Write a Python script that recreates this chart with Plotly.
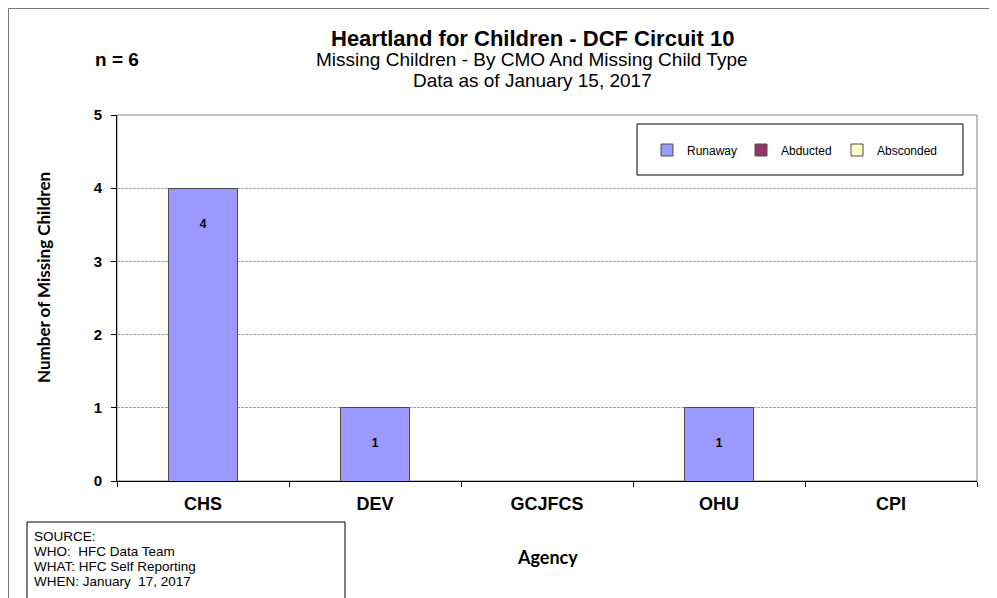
import plotly.graph_objects as go

# ---- data ----
agencies = ["CHS", "DEV", "GCJFCS", "OHU", "CPI"]
runaway = [4, 1, 0, 1, 0]
abducted = [0, 0, 0, 0, 0]
absconded = [0, 0, 0, 0, 0]
series_names = ["Runaway", "Abducted", "Absconded"]
series_colors = ["#9999FF", "#993366", "#FFFFCC"]
y_ticks = [0, 1, 2, 3, 4, 5]
n_total = sum(runaway) + sum(abducted) + sum(absconded)

title_lines = [
    "Heartland for Children - DCF Circuit 10",
    "Missing Children - By CMO And Missing Child Type",
    "Data as of January 15, 2017",
]
source_lines = [
    "SOURCE:",
    "WHO:  HFC Data Team",
    "WHAT: HFC Self Reporting",
    "WHEN: January  17, 2017",
]

W, H = 997, 598
OFF = 8  # page offset of the figure
ML, MT = 117 - OFF, 115 - OFF
MR = W - (977 - OFF)
MB = H - (481 - OFF)
PW = W - ML - MR
PH = H - MT - MB


def px(x):
    return (x - OFF - ML) / PW


def py(y):
    return (H - MB - (y - OFF)) / PH


ARIAL = "Liberation Sans, Arial, sans-serif"
CAL = "Lato, Carlito, sans-serif"

legend_ids = ["legend", "legend2", "legend3"]
legend_left = [647, 741, 837]

fig = go.Figure()
for name, vals, col, lid in zip(series_names, [runaway, abducted, absconded],
                                 series_colors, legend_ids):
    fig.add_trace(go.Bar(
        x=agencies, y=vals, name=name, legend=lid,
        marker=dict(color=col, line=dict(color="#4d4d4d", width=1)),
        width=0.4,
    ))

# data labels (placed half a unit below the bar top)
lab_x = [a for a, v in zip(agencies, runaway) if v > 0]
lab_y = [v - 0.5 for v in runaway if v > 0]
lab_t = [str(v) for v in runaway if v > 0]
fig.add_trace(go.Scatter(
    x=lab_x, y=lab_y, text=lab_t, mode="text", showlegend=False,
    textfont=dict(family=ARIAL, size=12, color="#000000", weight="bold"),
    hoverinfo="skip",
))

shapes = [
    dict(type="rect", xref="paper", yref="paper", x0=0, x1=1, y0=0, y1=1,
         line=dict(color="#808080", width=1), layer="below"),
    dict(type="rect", xref="paper", yref="paper", x0=px(637), x1=px(963),
         y0=py(175), y1=py(124), line=dict(color="#000000", width=1),
         fillcolor="white", layer="below"),
    dict(type="rect", xref="paper", yref="paper", x0=px(OFF + 0.5), x1=px(1010),
         y0=py(615), y1=py(OFF + 0.5), line=dict(color="#777777", width=1)),
    dict(type="rect", xref="paper", yref="paper", x0=px(27), x1=px(345),
         y0=py(615), y1=py(522), line=dict(color="#000000", width=1)),
]

annotations = [
    dict(text="<b>" + title_lines[0] + "</b>", x=px(532), y=py(38),
         font=dict(family=ARIAL, size=22, color="black")),
    dict(text=title_lines[1], x=px(532), y=py(60),
         font=dict(family=ARIAL, size=19, color="black")),
    dict(text=title_lines[2], x=px(532), y=py(81),
         font=dict(family=ARIAL, size=19, color="black")),
    dict(text="<b>n = %d</b>" % n_total, x=px(117), y=py(60),
         font=dict(family=ARIAL, size=19, color="black")),
    dict(text="<b>Number of Missing Children</b>", x=px(43), y=py(278),
         textangle=-90, font=dict(family=CAL, size=17, color="black")),
    dict(text="<b>Agency</b>", x=px(547), y=py(557),
         font=dict(family=CAL, size=18, color="black")),
]
for i, line in enumerate(source_lines):
    annotations.append(dict(text=line, x=px(32), y=py(536 + 15 * i), xanchor="left",
                            font=dict(family=ARIAL, size=13.5, color="black")))
for a in annotations:
    a.setdefault("xref", "paper")
    a.setdefault("yref", "paper")
    a.setdefault("showarrow", False)
    a.setdefault("xanchor", "center")
    a.setdefault("yanchor", "middle")

legend_common = dict(orientation="h", y=py(150), xanchor="left", yanchor="middle",
                     bgcolor="rgba(0,0,0,0)",
                     font=dict(family=ARIAL, size=12, color="black"))

fig.update_layout(
    width=W, height=H, autosize=False,
    margin=dict(l=ML, r=MR, t=MT, b=MB, pad=0),
    paper_bgcolor="white", plot_bgcolor="white",
    barmode="stack",
    showlegend=True,
    legend=dict(x=px(legend_left[0]), **legend_common),
    legend2=dict(x=px(legend_left[1]), **legend_common),
    legend3=dict(x=px(legend_left[2]), **legend_common),
    shapes=shapes,
    annotations=annotations,
    xaxis=dict(
        type="category", range=[-0.5, 4.5], showline=True, linecolor="black",
        linewidth=1, ticks="outside", ticklen=5, tickcolor="black",
        tickson="boundaries", showgrid=False, ticklabelstandoff=6,
        tickfont=dict(family=ARIAL, size=18, color="black", weight="bold"),
    ),
    yaxis=dict(
        range=[0, 5], tickvals=y_ticks, showline=True, linecolor="black",
        linewidth=1, ticks="outside", ticklen=5, tickcolor="black",
        showgrid=True, gridcolor="#a0a0a0", griddash="3px,1px", gridwidth=1,
        zeroline=False, ticklabelstandoff=6,
        tickfont=dict(family=ARIAL, size=15, color="black", weight="bold"),
    ),
)

fig.write_html("out.html")
